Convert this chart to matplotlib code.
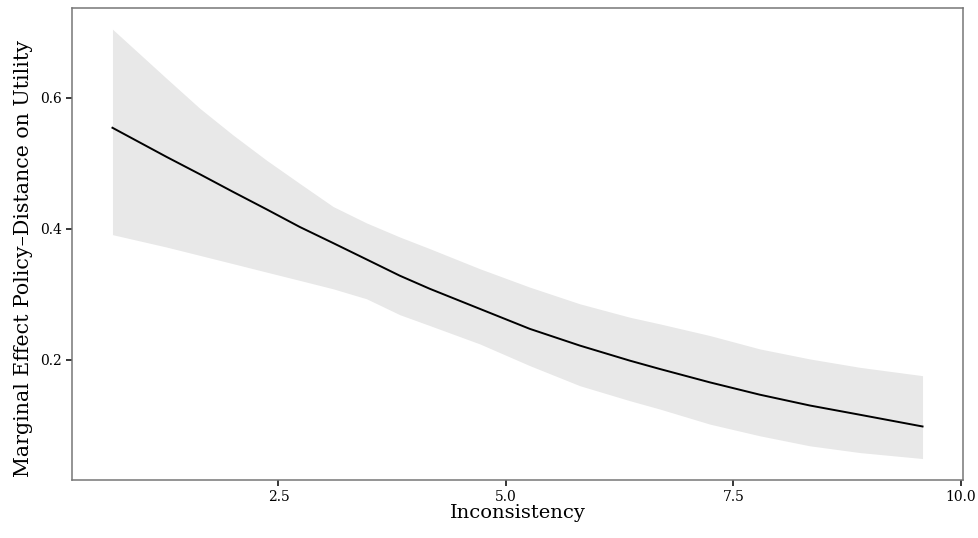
import numpy as np
import matplotlib
matplotlib.use("Agg")
import matplotlib.pyplot as plt

# marginal effect of policy-distance across inconsistency, with 95% band
inconsistency = [0.675, 1.268, 1.635, 2.001, 2.368, 2.734, 3.100, 3.467, 3.833, 4.163,
                 4.713, 5.262, 5.812, 6.362, 6.691, 7.241, 7.790, 8.340, 8.890, 9.579]
effect = [0.5541, 0.5098, 0.4833, 0.4563, 0.4298, 0.4028, 0.3783, 0.3534, 0.3285, 0.3085,
          0.2779, 0.2474, 0.2219, 0.1989, 0.1862, 0.1658, 0.1470, 0.1305, 0.1164, 0.0985]
upper = [0.7045, 0.6296, 0.5838, 0.5430, 0.5047, 0.4691, 0.4340, 0.4090, 0.3875, 0.3697,
         0.3391, 0.3110, 0.2856, 0.2651, 0.2550, 0.2372, 0.2168, 0.2015, 0.1887, 0.1760]
lower = [0.3911, 0.3722, 0.3595, 0.3468, 0.3340, 0.3213, 0.3085, 0.2933, 0.2690, 0.2524,
         0.2244, 0.1913, 0.1607, 0.1378, 0.1251, 0.1021, 0.0843, 0.0690, 0.0587, 0.0496]

xticks = [2.5, 5.0, 7.5, 10.0]
yticks = [0.2, 0.4, 0.6]

fig = plt.figure(figsize=(9.79, 5.38), dpi=100)
ax = fig.add_axes([0.0735, 0.1078, 0.9102, 0.8779])

ax.fill_between(inconsistency, lower, upper, color="#e8e8e8", linewidth=0)
ax.plot(inconsistency, effect, color="black", linewidth=1.4)

# ggplot style 5% expansion
xr = inconsistency[-1] - inconsistency[0]
yr = max(upper) - min(lower)
ax.set_xlim(inconsistency[0] - 0.05 * xr, inconsistency[-1] + 0.05 * xr)
ax.set_ylim(min(lower) - 0.05 * yr, max(upper) + 0.05 * yr)

ax.set_xticks(xticks)
ax.set_yticks(yticks)
ax.set_xticklabels(["%.1f" % v for v in xticks])
ax.set_yticklabels(["%.1f" % v for v in yticks])
for lab in ax.get_xticklabels() + ax.get_yticklabels():
    lab.set_family("DejaVu Serif")
    lab.set_fontsize(10)
ax.tick_params(direction="out", length=4, width=1.1, color="black",
               pad=3, labelcolor="black")

for s in ax.spines.values():
    s.set_color("#777777")
    s.set_linewidth(1.1)

ax.set_xlabel("Inconsistency", family="DejaVu Serif", fontsize=14, labelpad=0)
ax.set_ylabel("Marginal Effect Policy\u2013Distance on Utility",
              family="DejaVu Serif", fontsize=14.8)
ax.yaxis.set_label_coords(-0.044, 0.47)

fig.savefig("out.png", dpi=100)
